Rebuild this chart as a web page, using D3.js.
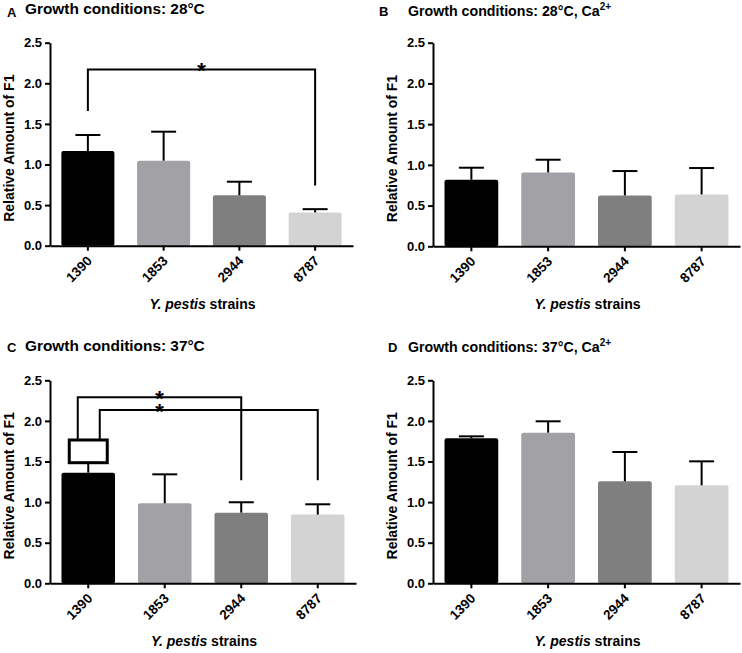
<!DOCTYPE html>
<html>
<head>
<meta charset="utf-8">
<script src="https://cdn.jsdelivr.net/npm/d3@7"></script>
<style>
  html, body { margin: 0; padding: 0; background: #fff; }
  svg { display: block; font-family: "Liberation Sans", Arial, sans-serif; }
  .axis path, .axis line { stroke: #000; stroke-width: 2px; }
  .axis text { font-size: 13px; font-weight: bold; fill: #000; }
</style>
</head>
<body>
<svg id="chart" width="742" height="653"></svg>
<script>
// ---- data ----
const strains = ["1390", "1853", "2944", "8787"];
const yTicks = [0, 0.5, 1.0, 1.5, 2.0, 2.5];
const barColors = ["#000000", "#a1a1a6", "#7f7f7f", "#d3d3d3"];

const panelLetters = ["A", "B", "C", "D"];
const panelTitles = ["Growth conditions: 28°C", "Growth conditions: 28°C, Ca", "Growth conditions: 37°C", "Growth conditions: 37°C, Ca"];
const panelSuperscripts = ["", "2+", "", "2+"];

const meanA = [1.166, 1.047, 0.621, 0.41];
const semA  = [0.197, 0.357, 0.167, 0.04];
const meanB = [0.817, 0.907, 0.625, 0.637];
const semB  = [0.148, 0.156, 0.299, 0.324];
const meanC = [1.362, 0.985, 0.870, 0.846];
const semC  = [0.123, 0.357, 0.128, 0.127];
const meanD = [1.786, 1.855, 1.256, 1.207];
const semD  = [0.024, 0.140, 0.361, 0.295];

// significance brackets: [fromIndex, toIndex, level, leftBottom, rightBottom]
const bracketsA = [[0, 3, 2.17, 1.66, 0.74]];
const bracketsC = [[0, 2, 2.29, 1.765, 1.27], [0, 3, 2.135, 1.765, 1.27]];
// box over 1390 in panel C: [index, low, high]
const boxC = [[0, 1.485, 1.765]];

const yLabel = "Relative Amount of F1";

// ---- layout ----
const panels = [
  { mean: meanA, sem: semA, brackets: bracketsA, box: [], x0: 50,  x1: 353, top: 42.7,  bottom: 245.7, tx: 25,  ty: 13.5, tfs: 15.4, lx: 7,   ly: 17,  yTitleX: 13.5, xTitleY: 309 },
  { mean: meanB, sem: semB, brackets: [], box: [],        x0: 433, x1: 740, top: 42.7,  bottom: 246.3, tx: 408, ty: 15.5, tfs: 14.2, lx: 379, ly: 16,  yTitleX: 397,  xTitleY: 309 },
  { mean: meanC, sem: semC, brackets: bracketsC, box: boxC, x0: 50, x1: 356, top: 380.3, bottom: 583.3, tx: 25,  ty: 350.5, tfs: 15.4, lx: 7,  ly: 351.5, yTitleX: 13.5, xTitleY: 646 },
  { mean: meanD, sem: semD, brackets: [], box: [],        x0: 433, x1: 740, top: 380.3, bottom: 583.3, tx: 408, ty: 352, tfs: 14.2, lx: 388, ly: 352, yTitleX: 397,  xTitleY: 646 }
];

const svg = d3.select("#chart");

panels.forEach((p, pi) => {
  const g = svg.append("g");
  const x = d3.scaleBand().domain(strains).range([p.x0, p.x1]).paddingInner(0.3).paddingOuter(0.15);
  const y = d3.scaleLinear().domain([0, 2.5]).range([p.bottom, p.top]);

  // bars
  g.selectAll("rect.bar").data(strains).enter().append("rect")
    .attr("class", "bar")
    .attr("x", d => x(d))
    .attr("width", x.bandwidth())
    .attr("y", (d, i) => y(p.mean[i]))
    .attr("height", (d, i) => y(0) - y(p.mean[i]))
    .attr("rx", 2)
    .attr("fill", (d, i) => barColors[i]);

  // error bars (upper only)
  const capW = 25;
  strains.forEach((s, i) => {
    const cx = x(s) + x.bandwidth() / 2;
    const yt = y(p.mean[i] + p.sem[i]);
    g.append("line").attr("x1", cx).attr("x2", cx).attr("y1", y(p.mean[i])).attr("y2", yt)
      .attr("stroke", "#000").attr("stroke-width", 2);
    g.append("line").attr("x1", cx - capW / 2).attr("x2", cx + capW / 2).attr("y1", yt).attr("y2", yt)
      .attr("stroke", "#000").attr("stroke-width", 2);
  });

  // box (panel C)
  p.box.forEach(b => {
    const cx = x(strains[b[0]]) + x.bandwidth() / 2;
    g.append("rect").attr("x", cx - 19).attr("width", 38)
      .attr("y", y(b[2])).attr("height", y(b[1]) - y(b[2]))
      .attr("fill", "none").attr("stroke", "#000").attr("stroke-width", 3);
  });

  // brackets
  const legOffsets = p.brackets.length > 1 ? [-10.5, 11.5] : [0];
  let starX = null;
  p.brackets.forEach((b, bi) => {
    const xl = x(strains[b[0]]) + x.bandwidth() / 2 + legOffsets[bi];
    const xr = x(strains[b[1]]) + x.bandwidth() / 2;
    const path = d3.path();
    path.moveTo(xl, y(b[3]));
    path.lineTo(xl, y(b[2]));
    path.lineTo(xr, y(b[2]));
    path.lineTo(xr, y(b[4]));
    g.append("path").attr("d", path.toString()).attr("fill", "none")
      .attr("stroke", "#000").attr("stroke-width", 2);
    if (starX === null) starX = (xl + xr) / 2;
    g.append("text").attr("x", starX).attr("y", y(b[2]) + 9)
      .attr("text-anchor", "middle")
      .style("font-size", "22px").style("font-weight", "bold")
      .text("*");
  });

  // y axis
  const yAxis = d3.axisLeft(y).tickValues(yTicks).tickFormat(d3.format(".1f")).tickSize(5).tickSizeOuter(0).tickPadding(3);
  g.append("g").attr("class", "axis").attr("transform", `translate(${p.x0},0)`).call(yAxis);

  // x axis
  const xAxis = d3.axisBottom(x).tickSize(5).tickSizeOuter(0);
  const xg = g.append("g").attr("class", "axis").attr("transform", `translate(0,${p.bottom})`).call(xAxis);
  xg.selectAll(".tick text")
    .attr("text-anchor", "end")
    .attr("dy", null)
    .attr("y", null)
    .style("font-size", "13.5px")
    .attr("transform", "translate(5,16) rotate(-45)");

  // y title
  g.append("text")
    .attr("transform", `translate(${p.yTitleX},${(p.top + p.bottom) / 2 + 4}) rotate(-90)`)
    .attr("text-anchor", "middle")
    .style("font-size", "14px").style("font-weight", "bold")
    .text(yLabel);

  // x title
  const xt = g.append("text")
    .attr("x", (p.x0 + p.x1) / 2 + 1)
    .attr("y", p.xTitleY)
    .attr("text-anchor", "middle")
    .style("font-size", "14px").style("font-weight", "bold");
  xt.append("tspan").style("font-style", "italic").text("Y. pestis");
  xt.append("tspan").text(" strains");

  // panel letter
  g.append("text").attr("x", p.lx).attr("y", p.ly)
    .style("font-size", "13px").style("font-weight", "bold").text(panelLetters[pi]);

  // panel title
  const tt = g.append("text").attr("x", p.tx).attr("y", p.ty)
    .style("font-size", p.tfs + "px").style("font-weight", "bold")
    .text(panelTitles[pi]);
  if (panelSuperscripts[pi]) {
    tt.append("tspan").attr("dy", -6).style("font-size", "10px").text(panelSuperscripts[pi]);
  }
});
</script>
</body>
</html>
